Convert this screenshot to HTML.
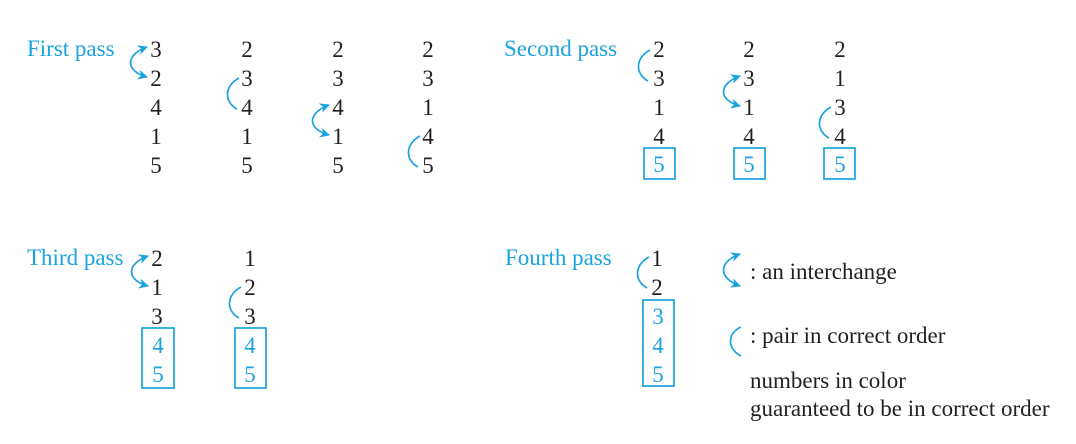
<!DOCTYPE html>
<html><head><meta charset="utf-8"><style>
html,body{margin:0;padding:0;background:#fff;}
svg{display:block;}
text{font-family:"Liberation Serif",serif;font-size:23px;}
.d{text-anchor:middle;fill:#231f20;}
.c{fill:#1ba3e0;}
.cd{text-anchor:middle;fill:#1ba3e0;}
.k{fill:#231f20;}
</style></head><body>
<svg width="1076" height="444" viewBox="0 0 1076 444" xmlns="http://www.w3.org/2000/svg">
<defs>
<marker id="a" viewBox="0 0 10 10" refX="9" refY="5" markerWidth="10" markerHeight="10" markerUnits="userSpaceOnUse" orient="auto-start-reverse">
<path d="M0,0 L10,5 L0,10 L3,5 z" fill="#1ba3e0"/></marker>
</defs>
<g fill="none" stroke="#1ba3e0" stroke-width="1.7">
<path d="M147,47 C125,55 125,71 147,77" marker-start="url(#a)" marker-end="url(#a)"/>
<path d="M329,105 C307,113 307,129 329,135" marker-start="url(#a)" marker-end="url(#a)"/>
<path d="M740,76 C718,84 718,100 740,106" marker-start="url(#a)" marker-end="url(#a)"/>
<path d="M148,256 C126,264 126,280 148,286" marker-start="url(#a)" marker-end="url(#a)"/>
<path d="M740,254 C718,262 718,278 740,286" marker-start="url(#a)" marker-end="url(#a)"/>
<path d="M239,78 C224,86 224,102 237,109"/>
<path d="M420,136 C405,144 405,160 418,167"/>
<path d="M650,50 C635,58 635,74 648,81"/>
<path d="M831,107 C816,115 816,131 829,138"/>
<path d="M241,287 C226,295 226,311 239,318"/>
<path d="M649,257 C634,265 634,281 647,288"/>
<path d="M741,327 C727,333 727,349 741,356"/>
<rect x="644" y="148" width="31" height="31"/>
<rect x="734" y="148" width="31" height="31"/>
<rect x="824" y="148" width="31" height="31"/>
<rect x="142" y="328" width="32" height="60"/>
<rect x="235" y="328" width="31" height="60"/>
<rect x="643" y="300" width="31" height="86"/>
</g>
<text class="c" x="27" y="56">First pass</text>
<text class="c" x="504" y="56">Second pass</text>
<text class="c" x="27" y="265">Third pass</text>
<text class="c" x="505" y="265">Fourth pass</text>
<g class="d">
<text x="156" y="57">3</text><text x="156" y="86">2</text><text x="156" y="115">4</text><text x="156" y="144">1</text><text x="156" y="173">5</text>
<text x="247" y="57">2</text><text x="247" y="86">3</text><text x="247" y="115">4</text><text x="247" y="144">1</text><text x="247" y="173">5</text>
<text x="338" y="57">2</text><text x="338" y="86">3</text><text x="338" y="115">4</text><text x="338" y="144">1</text><text x="338" y="173">5</text>
<text x="428" y="57">2</text><text x="428" y="86">3</text><text x="428" y="115">1</text><text x="428" y="144">4</text><text x="428" y="173">5</text>
<text x="659" y="57">2</text><text x="659" y="86">3</text><text x="659" y="115">1</text><text x="659" y="144">4</text>
<text x="749" y="57">2</text><text x="749" y="86">3</text><text x="749" y="115">1</text><text x="749" y="144">4</text>
<text x="840" y="57">2</text><text x="840" y="86">1</text><text x="840" y="115">3</text><text x="840" y="144">4</text>
<text x="157" y="266">2</text><text x="157" y="295">1</text><text x="157" y="324">3</text>
<text x="250" y="266">1</text><text x="250" y="295">2</text><text x="250" y="324">3</text>
<text x="657" y="266">1</text><text x="657" y="295">2</text>
</g>
<g class="cd">
<text x="659" y="172">5</text><text x="749" y="172">5</text><text x="840" y="172">5</text>
<text x="158" y="353">4</text><text x="158" y="382">5</text>
<text x="250" y="353">4</text><text x="250" y="382">5</text>
<text x="658" y="324">3</text><text x="658" y="353">4</text><text x="658" y="382">5</text>
</g>
<text class="k" x="750" y="279">: an interchange</text>
<text class="k" x="750" y="343">: pair in correct order</text>
<text class="k" x="750" y="388">numbers in color</text>
<text class="k" x="750" y="416">guaranteed to be in correct order</text>
</svg>
</body></html>
